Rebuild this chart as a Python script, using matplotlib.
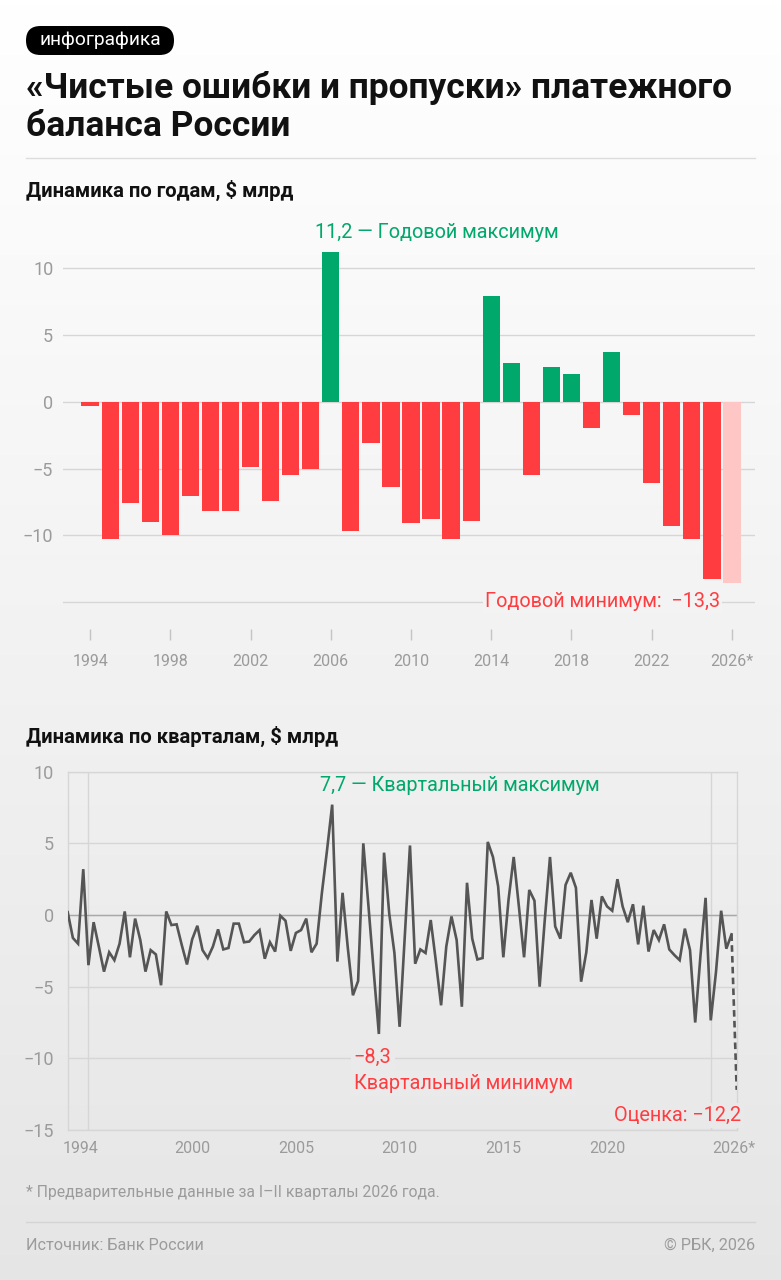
import numpy as np
import matplotlib
matplotlib.use('Agg')
import matplotlib.pyplot as plt
from matplotlib.lines import Line2D
from matplotlib.patches import FancyBboxPatch

plt.rcParams['font.family'] = ['Roboto', 'DejaVu Sans']

W, H = 781, 1280

# --- годовые данные, $ млрд ---
years = list(range(1994, 2027))
year_vals = [-0.3, -10.3, -7.6, -9.0, -10.0, -7.05, -8.2, -8.2, -4.9, -7.4,
             -5.5, -5.0, 11.2, -9.7, -3.1, -6.4, -9.1, -8.75, -10.3, -8.9,
             7.95, 2.9, -5.45, 2.6, 2.05, -1.97, 3.7, -1.02, -6.1, -9.3,
             -10.3, -13.3, -13.6]
year_ticks = list(range(1994, 2027, 4))
year_tick_labels = [str(y) for y in year_ticks[:-1]] + ['2026*']

# --- квартальные данные, $ млрд (I кв. 1994 - II кв. 2026) ---
q_vals = [0.2, -1.6, -2.0, 3.2,
          -3.5, -0.5, -2.2, -3.95,
          -2.6, -3.15, -2.0, 0.25,
          -2.95, -0.25, -1.75, -3.95,
          -2.45, -2.75, -4.9, 0.25,
          -0.7, -0.65, -2.1, -3.45,
          -1.7, -0.75, -2.45, -3.0,
          -2.2, -1.0, -2.4, -2.3,
          -0.6, -0.6, -1.9, -1.85,
          -1.4, -1.05, -3.05, -1.9,
          -2.55, -0.05, -0.4, -2.5,
          -1.25, -1.05, -0.25, -2.6,
          -2.0, 1.5, 4.5, 7.7,
          -3.25, 1.55, -2.25, -5.6,
          -4.6, 5.0, 0.6, -3.9,
          -8.3, 4.35, 0.1, -2.65,
          -7.8, -1.5, 4.85, -3.4,
          -2.4, -2.65, -0.35, -3.25,
          -6.3, -2.2, -0.1, -1.75,
          -6.4, 2.25, -1.65, -3.1,
          -3.0, 5.1, 4.05, 2.0,
          -2.95, 1.05, 4.05, 0.6,
          -2.95, 1.75, 1.0, -5.0,
          -0.3, 4.05, -0.8, -1.65,
          2.1, 2.95, 1.9, -4.65,
          -2.6, 1.05, -1.65, 1.3,
          0.6, 0.3, 2.5, 0.6,
          -0.5, 0.75, -2.05, 0.65,
          -2.55, -1.05, -1.75, -0.65,
          -2.4, -2.8, -3.15, -0.95,
          -2.45, -7.5, -2.9, 1.2,
          -7.35, -4.0, 0.3, -2.35,
          -1.35, -12.2]
q_x = 1994 + np.arange(len(q_vals)) / 4.0
q_grid = list(range(1995, 2026, 5))
q_tick_labels = ['1994', '2000', '2005', '2010', '2015', '2020', '2026*']

RED = '#ff3d41'
GREEN = '#00a86b'
PALE = '#ffc6c6'
GRAY_TXT = '#9b9b9b'
GRID = '#d6d6d6'
ANN = 14.3


def fx(px):
    return px / W


def fy(py):
    return 1 - py / H


def bg_color(py):
    t = py / H
    top = np.array([1.0, 1.0, 1.0])
    bot = np.array([0.90, 0.90, 0.90])
    return tuple(top + (bot - top) * t)


def minus(v):
    return ('%g' % v).replace('-', '\u2212')


fig = plt.figure(figsize=(W / 100, H / 100), dpi=100)

# фон с градиентом
bg = fig.add_axes([0, 0, 1, 1])
grad = np.array([bg_color(p) for p in np.linspace(0, H, 256)])[:, None, :]
bg.imshow(grad, aspect='auto', extent=[0, 1, 0, 1])
bg.axis('off')
bg.set_zorder(0)

# плашка и заголовок
badge = FancyBboxPatch((fx(26), fy(55)), fx(148), 29 / H,
                       boxstyle='round,pad=0,rounding_size=%f' % (14.5 / W),
                       mutation_aspect=W / H, transform=fig.transFigure,
                       fc='black', ec='none')
fig.add_artist(badge)
fig.text(fx(100), fy(40), 'инфографика', color='white', fontsize=13.8,
         ha='center', va='center')
fig.text(fx(26), fy(88), '«Чистые ошибки и пропуски» платежного',
         fontsize=25.5, weight='bold', va='center', color='#111111')
fig.text(fx(26), fy(127), 'баланса России',
         fontsize=25.5, weight='bold', va='center', color='#111111')
fig.add_artist(Line2D([fx(26), fx(755)], [fy(158), fy(158)], color='#dddddd', lw=1))

# ---------------- годовой график ----------------
fig.text(fx(26), fy(190), 'Динамика по годам, $ млрд', fontsize=14.6,
         weight='bold', va='center', color='#111111')

ax1 = fig.add_axes([fx(63), fy(640), fx(755) - fx(63), fy(215) - fy(640)])
ax1.set_zorder(1)
ax1.patch.set_alpha(0)
colors = []
for y, v in zip(years, year_vals):
    if y == years[-1]:
        colors.append(PALE)
    elif v > 0:
        colors.append(GREEN)
    else:
        colors.append(RED)
ax1.bar(years, year_vals, width=0.86, color=colors, zorder=2)
ax1.set_xlim(1992.65, 2027.15)
ax1.set_ylim(-17.85, 14.0)
ax1.set_yticks([-15, -10, -5, 0, 5, 10])
ax1.set_yticklabels([''] + [minus(v) for v in [-10, -5, 0, 5, 10]])
ax1.grid(axis='y', color=GRID, lw=1, zorder=0)
ax1.set_xticks(year_ticks)
ax1.set_xticklabels(year_tick_labels)
ax1.tick_params(axis='x', direction='in', length=8, width=1, color='#c4c4c4',
                labelsize=11.5, labelcolor=GRAY_TXT, pad=10)
ax1.tick_params(axis='y', length=0, labelsize=13, labelcolor=GRAY_TXT, pad=7)
for s in ax1.spines.values():
    s.set_visible(False)
ax1.set_axisbelow(True)

i_max = int(np.argmax(year_vals))
ax1.annotate('11,2 — Годовой максимум', xy=(years[i_max] - 0.43, year_vals[i_max]),
             xytext=(-5, 14), textcoords='offset points', ha='left', va='center',
             fontsize=ANN, color=GREEN)
i_min = int(np.argmin(year_vals[:-1]))
ax1.text(years[i_min] + 0.43, -15, 'Годовой минимум:  \u221213,3', ha='right', va='center',
         fontsize=ANN, color=RED, zorder=3,
         bbox=dict(boxstyle='square,pad=0.1', fc=bg_color(602), ec='none'))

# ---------------- квартальный график ----------------
fig.text(fx(26), fy(736), 'Динамика по кварталам, $ млрд', fontsize=14.6,
         weight='bold', va='center', color='#111111')

ax2 = fig.add_axes([fx(67.7), fy(1130), fx(736.7) - fx(67.7), fy(771.7) - fy(1130)])
ax2.set_zorder(1)
ax2.patch.set_alpha(0)
ax2.plot(q_x[:-1], q_vals[:-1], color='#555555', lw=1.9, zorder=3,
         solid_joinstyle='miter')
ax2.plot(q_x[-2:], q_vals[-2:], color='#555555', lw=1.9, zorder=3,
         linestyle=(0, (2.5, 1.6)))
ax2.set_xlim(q_x[0], q_x[-1])
ax2.set_ylim(-15, 10)
ax2.set_yticks([-15, -10, -5, 0, 5, 10])
ax2.set_yticklabels([minus(v) for v in [-15, -10, -5, 0, 5, 10]])
ax2.set_xticks(q_grid, minor=True)
ax2.set_xticks([q_x[0] + 0.6, 2000, 2005, 2010, 2015, 2020, q_x[-1] - 0.15])
ax2.set_xticklabels(q_tick_labels)
ax2.grid(axis='y', which='major', color=GRID, lw=1, zorder=0)
ax2.grid(axis='x', which='minor', color=GRID, lw=1, zorder=0)
ax2.axhline(0, color='#a8a8a8', lw=1, zorder=1)
ax2.tick_params(axis='x', which='both', length=0, labelsize=11.5,
                labelcolor=GRAY_TXT, pad=8)
ax2.tick_params(axis='y', length=0, labelsize=13, labelcolor=GRAY_TXT, pad=10)
for s in ax2.spines.values():
    s.set_color(GRID)
    s.set_linewidth(1)
ax2.set_axisbelow(True)

j_max = int(np.argmax(q_vals))
ax2.annotate('7,7 — Квартальный максимум', xy=(q_x[j_max], q_vals[j_max]),
             xytext=(-9, 14), textcoords='offset points', ha='left', va='center',
             fontsize=ANN, color=GREEN)
j_min = int(np.argmin(q_vals[:-1]))
box2 = dict(boxstyle='square,pad=0.15', fc=bg_color(1070), ec='none')
ax2.annotate('\u22128,3', xy=(q_x[j_min], q_vals[j_min]),
             xytext=(-18, -17), textcoords='offset points', ha='left', va='center',
             fontsize=ANN, color=RED, zorder=4, bbox=box2)
ax2.annotate('Квартальный минимум', xy=(q_x[j_min], q_vals[j_min]),
             xytext=(-18, -35.5), textcoords='offset points', ha='left', va='center',
             fontsize=ANN, color=RED, zorder=4, bbox=box2)
ax2.annotate('Оценка: \u221212,2', xy=(q_x[-1], q_vals[-1]),
             xytext=(3, -18.5), textcoords='offset points', ha='right', va='center',
             fontsize=ANN, color=RED, zorder=4,
             bbox=dict(boxstyle='square,pad=0.15', fc=bg_color(1115), ec='none'))

# ---------------- подвал ----------------
fig.text(fx(26), fy(1193), '* Предварительные данные за I–II кварталы 2026 года.',
         fontsize=11.3, color=GRAY_TXT, va='center')
fig.add_artist(Line2D([fx(26), fx(755)], [fy(1222), fy(1222)], color='#d4d4d4', lw=1))
fig.text(fx(26), fy(1245), 'Источник: Банк России', fontsize=11.7,
         color=GRAY_TXT, va='center')
fig.text(fx(755), fy(1245), '© РБК, 2026', fontsize=11.7, color=GRAY_TXT,
         va='center', ha='right')

fig.savefig('out.png', dpi=100)
